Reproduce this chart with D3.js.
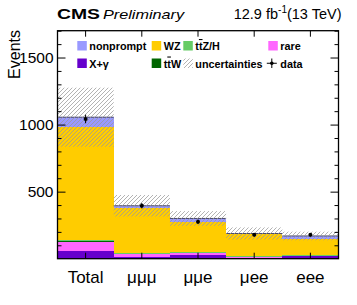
<!DOCTYPE html>
<html><head><meta charset="utf-8">
<script src="https://cdn.jsdelivr.net/npm/d3@7"></script>
<style>body{margin:0;background:#fff;} svg{display:block;font-family:"Liberation Sans",Arial,sans-serif;}</style>
</head><body>
<svg id="c" width="357" height="305"></svg>
<script>
// ---- data ----
const categories = ["Total", "μμμ", "μμe", "μee", "eee"];
const xgamma    = [60, 12, 28, 5, 20];
const rare      = [67, 22, 15, 10, 3];
const ttW       = [3, 1, 1, 1, 0.5];
const ttZH      = [12, 4, 4, 3, 3];
const wz        = [841, 341, 227, 164, 118];
const nonprompt = [72, 15, 25, 5, 25];
const uncert    = [220, 80, 55, 45, 32];
const dataVals  = [1042, 395, 275, 178, 178];
const dataErr   = [32, 20, 17, 13, 13];
const yMajorTicks = [500, 1000, 1500];
const yMinorTicks = [100,200,300,400,600,700,800,900,1100,1200,1300,1400,1600,1700];

const seriesNames  = ["X+γ", "rare", "ttW", "ttZ/H", "WZ", "nonprompt"];
const seriesValues = [xgamma, rare, ttW, ttZH, wz, nonprompt];
const seriesColors = ["#6600cc", "#ff66ff", "#006600", "#66cc66", "#ffcc00", "#9999ff"];

// ---- layout ----
const L = 57.5, R = 338.5, T = 30.7, B = 258.7;
const svg = d3.select("#c");
const x = d3.scaleBand().domain(categories).range([L, R]).padding(0);
const y = d3.scaleLinear().domain([0, 1700]).range([B, T]);

const defs = svg.append("defs");
const pat = defs.append("pattern").attr("id", "hatch").attr("patternUnits", "userSpaceOnUse")
  .attr("width", 4).attr("height", 4);
pat.append("path").attr("d", "M-1,1 l2,-2 M0,4 l4,-4 M3,5 l2,-2")
  .attr("stroke", "#9a9a9a").attr("stroke-width", 0.75);

// stacked table
const table = categories.map((c, i) => {
  const o = {cat: c};
  seriesNames.forEach((n, k) => o[n] = seriesValues[k][i]);
  return o;
});
const stacked = d3.stack().keys(seriesNames)(table);

stacked.forEach((s, k) => {
  svg.append("g").selectAll("rect").data(s).join("rect")
    .attr("x", d => x(d.data.cat))
    .attr("width", x.bandwidth())
    .attr("y", d => y(d[1]))
    .attr("height", d => Math.max(0, y(d[0]) - y(d[1])))
    .attr("fill", seriesColors[k])
    .attr("shape-rendering", "crispEdges");
});

const totals = categories.map((c, i) => d3.sum(seriesValues, v => v[i]));

// stack outline
svg.append("g").selectAll("line").data(categories).join("line")
  .attr("x1", c => x(c)).attr("x2", c => x(c) + x.bandwidth())
  .attr("y1", (c, i) => y(totals[i])).attr("y2", (c, i) => y(totals[i]))
  .attr("stroke", "#4a4a6a").attr("stroke-width", 1);

// uncertainty band
svg.append("g").selectAll("rect").data(categories).join("rect")
  .attr("x", c => x(c)).attr("width", x.bandwidth())
  .attr("y", (c, i) => y(totals[i] + uncert[i]))
  .attr("height", (c, i) => y(totals[i] - uncert[i]) - y(totals[i] + uncert[i]))
  .attr("fill", "url(#hatch)");

// data points
const dg = svg.append("g");
dg.selectAll("line").data(categories).join("line")
  .attr("x1", c => x(c) + x.bandwidth() / 2).attr("x2", c => x(c) + x.bandwidth() / 2)
  .attr("y1", (c, i) => y(dataVals[i] + dataErr[i])).attr("y2", (c, i) => y(dataVals[i] - dataErr[i]))
  .attr("stroke", "#000").attr("stroke-width", 1);
dg.selectAll("circle").data(categories).join("circle")
  .attr("cx", c => x(c) + x.bandwidth() / 2).attr("cy", (c, i) => y(dataVals[i]))
  .attr("r", 2).attr("fill", "#000");

// axes
const axL = svg.append("g").attr("transform", `translate(${L},0)`)
  .call(d3.axisLeft(y).tickValues(yMajorTicks).tickSize(-8).tickPadding(4).tickFormat(d3.format("d")));
axL.select(".domain").remove();
axL.selectAll("text").attr("font-size", 15.5).attr("fill", "#000").attr("font-family", "Liberation Sans, Arial");
svg.append("g").attr("transform", `translate(${L},0)`)
  .call(d3.axisLeft(y).tickValues(yMinorTicks).tickSize(-4).tickFormat(""))
  .select(".domain").remove();
svg.append("g").attr("transform", `translate(${R},0)`)
  .call(d3.axisRight(y).tickValues(yMajorTicks).tickSize(-8).tickFormat(""))
  .select(".domain").remove();
svg.append("g").attr("transform", `translate(${R},0)`)
  .call(d3.axisRight(y).tickValues(yMinorTicks).tickSize(-4).tickFormat(""))
  .select(".domain").remove();

const axB = svg.append("g").attr("transform", `translate(0,${B})`)
  .call(d3.axisBottom(x).tickSize(-6).tickPadding(12));
axB.select(".domain").remove();
axB.selectAll("text").attr("font-size", 17).attr("fill", "#000").attr("font-family", "Liberation Sans, Arial");
svg.append("g").attr("transform", `translate(0,${T})`)
  .call(d3.axisTop(x).tickSize(-6).tickFormat(""))
  .select(".domain").remove();
svg.selectAll(".tick line").attr("stroke", "#000");

// frame
svg.append("rect").attr("x", L).attr("y", T).attr("width", R - L).attr("height", B - T)
  .attr("fill", "none").attr("stroke", "#000").attr("stroke-width", 1.3);

// y title
svg.append("text").attr("transform", "translate(19.5,30) rotate(-90)")
  .attr("text-anchor", "end").attr("font-size", 16).text("Events");

// header
svg.append("text").attr("x", 57).attr("y", 18.5).attr("font-size", 15.5).attr("font-weight", "bold")
  .attr("textLength", 43).attr("lengthAdjust", "spacingAndGlyphs").text("CMS");
svg.append("text").attr("x", 103).attr("y", 18.5).attr("font-size", 13.5).attr("font-style", "italic")
  .attr("textLength", 81).attr("lengthAdjust", "spacingAndGlyphs").text("Preliminary");
const lum = svg.append("text").attr("x", 341.5).attr("y", 18.5).attr("font-size", 14.5).attr("text-anchor", "end");
lum.append("tspan").text("12.9 fb");
lum.append("tspan").attr("font-size", 10).attr("dy", -6).text("-1");
lum.append("tspan").attr("dy", 6).text("(13 TeV)");

// legend
const legendItems = [
  {name: "nonprompt", col: 0, row: 0, type: "box", color: "#9999ff"},
  {name: "WZ", col: 1, row: 0, type: "box", color: "#ffcc00"},
  {name: "ttZ/H", col: 2, row: 0, type: "box", color: "#66cc66", bar: true},
  {name: "rare", col: 3, row: 0, type: "box", color: "#ff66ff"},
  {name: "X+γ", col: 0, row: 1, type: "box", color: "#6600cc"},
  {name: "ttW", col: 1, row: 1, type: "box", color: "#006600", bar: true},
  {name: "uncertainties", col: 2, row: 1, type: "hatch"},
  {name: "data", col: 3, row: 1, type: "data"}
];
const colX = [77.3, 151.7, 183.3, 268.3];
const rowY = [41, 58.5];
const lg = svg.append("g");
legendItems.forEach(it => {
  const bx = colX[it.col], by = rowY[it.row];
  if (it.type === "box") {
    lg.append("rect").attr("x", bx).attr("y", by).attr("width", 9.5).attr("height", 9.5).attr("fill", it.color);
  } else if (it.type === "hatch") {
    lg.append("rect").attr("x", bx).attr("y", by).attr("width", 9.5).attr("height", 9.5).attr("fill", "url(#hatch)");
  } else {
    lg.append("line").attr("x1", bx - 1.5).attr("x2", bx + 8.5).attr("y1", by + 4.75).attr("y2", by + 4.75).attr("stroke", "#000");
    lg.append("line").attr("x1", bx + 3.5).attr("x2", bx + 3.5).attr("y1", by).attr("y2", by + 9.5).attr("stroke", "#000");
    lg.append("circle").attr("cx", bx + 3.5).attr("cy", by + 4.75).attr("r", 1.8).attr("fill", "#000");
  }
  const t = lg.append("text").attr("x", bx + 12).attr("y", by + 9)
    .attr("font-size", 10.8).attr("font-weight", "bold");
  if (it.bar) {
    t.append("tspan").text("t");
    t.append("tspan").attr("text-decoration", "overline").text("t");
    t.append("tspan").text(it.name.slice(2));
  } else {
    t.text(it.name);
  }
});
</script>
</body></html>
